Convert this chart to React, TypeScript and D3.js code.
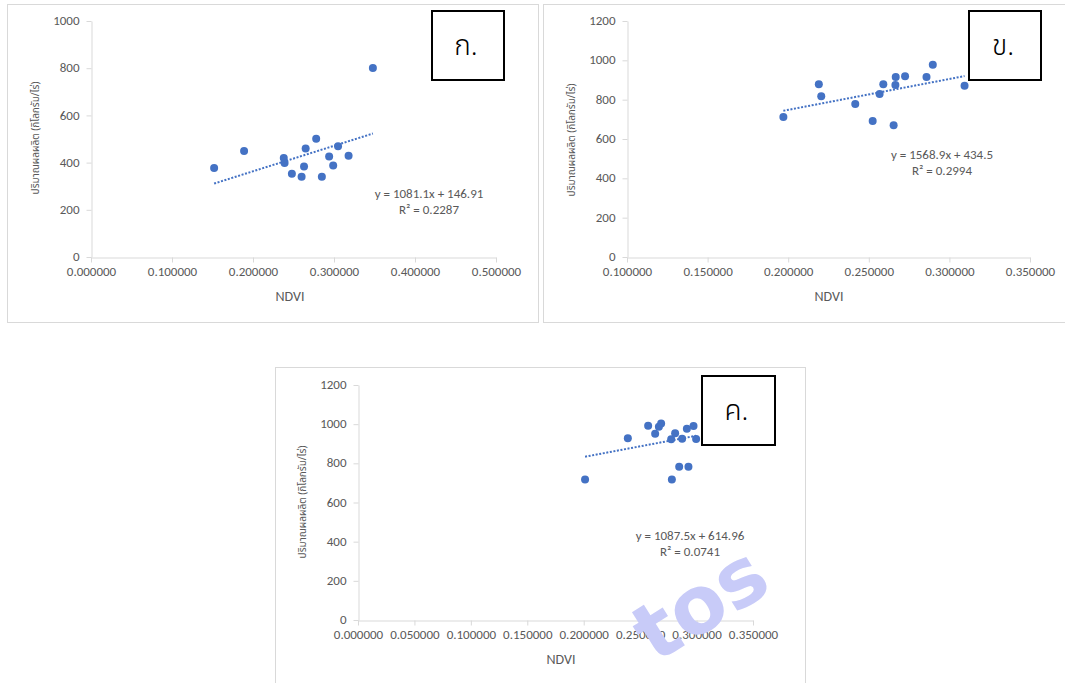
import React, { useEffect, useRef } from 'react';
import * as d3 from 'd3';

// ก.
const ndviA = [0.152, 0.189, 0.238, 0.239, 0.248, 0.260, 0.263, 0.265, 0.278, 0.285, 0.294, 0.299, 0.305, 0.318, 0.348];
const yieldA = [377, 449, 420, 398, 353, 340, 383, 460, 501, 340, 426, 388, 469, 429, 801];
const xTicksA = [0, 0.1, 0.2, 0.3, 0.4, 0.5];
const yTicksA = [0, 200, 400, 600, 800, 1000];
const trendA = [1081.1, 146.91];
const eqA = ['y = 1081.1x + 146.91', 'R² = 0.2287'];

// ข.
const ndviB = [0.197, 0.219, 0.2205, 0.2416, 0.2524, 0.2567, 0.259, 0.2654, 0.2665, 0.2667, 0.2725, 0.2858, 0.2897, 0.3094];
const yieldB = [712, 878, 817, 778, 692, 829, 878, 670, 875, 915, 919, 915, 978, 871];
const xTicksB = [0.1, 0.15, 0.2, 0.25, 0.3, 0.35];
const yTicksB = [0, 200, 400, 600, 800, 1000, 1200];
const trendB = [1568.9, 434.5];
const eqB = ['y = 1568.9x + 434.5', 'R² = 0.2994'];

// ค.
const ndviC = [0.2012, 0.2391, 0.2571, 0.2633, 0.2666, 0.2686, 0.2775, 0.2781, 0.281, 0.2846, 0.2872, 0.2914, 0.2928, 0.2973, 0.2996];
const yieldC = [718, 928, 992, 951, 987, 1004, 923, 718, 953, 783, 926, 977, 783, 991, 924];
const xTicksC = [0, 0.05, 0.1, 0.15, 0.2, 0.25, 0.3, 0.35];
const yTicksC = [0, 200, 400, 600, 800, 1000, 1200];
const trendC = [1087.5, 614.96];
const eqC = ['y = 1087.5x + 614.96', 'R² = 0.0741'];

const labels = ['ก.', 'ข.', 'ค.'];
const xTitle = 'NDVI';
const yTitle = 'ปริมาณผลผลิต (กิโลกรัม/ไร่)';

const BLUE = '#4472C4';
const GREY = '#595959';
const LINE = '#d9d9d9';
const FONT = "Calibri, Carlito, 'Liberation Sans', Arial, sans-serif";
const THAI = "'Noto Sans Thai', 'Noto Sans Thai UI', Tahoma, 'DejaVu Sans', sans-serif";

const panels = [
  { xs: ndviA, ys: yieldA, xt: xTicksA, yt: yTicksA, trend: trendA, eq: eqA, label: labels[0],
    frame: [7, 4, 531, 318], px: [91, 496], py: [257, 21], box: [432, 11, 72, 69], eqPos: [429, 195], xtPos: [290, 298], ytPos: [36, 138] },
  { xs: ndviB, ys: yieldB, xt: xTicksB, yt: yTicksB, trend: trendB, eq: eqB, label: labels[1],
    frame: [543, 4, 530, 318], px: [627, 1030], py: [257, 21], box: [969, 11, 72, 69], eqPos: [942, 156], xtPos: [829, 298], ytPos: [572, 140] },
  { xs: ndviC, ys: yieldC, xt: xTicksC, yt: yTicksC, trend: trendC, eq: eqC, label: labels[2],
    frame: [275, 367, 530, 330], px: [358, 753], py: [620, 385], box: [702, 376, 73, 69], eqPos: [690, 537], xtPos: [561, 661], ytPos: [303, 502] },
];

export default function App() {
  const ref = useRef<SVGSVGElement>(null);

  useEffect(() => {
    const svg = d3.select(ref.current);
    svg.selectAll('*').remove();

    panels.forEach((p) => {
      const g = svg.append('g');
      const [fx, fy, fw, fh] = p.frame;
      g.append('rect').attr('x', fx + 0.5).attr('y', fy + 0.5).attr('width', fw).attr('height', fh)
        .attr('fill', 'white').attr('stroke', LINE);

      const x = d3.scaleLinear().domain([p.xt[0], p.xt[p.xt.length - 1]]).range(p.px);
      const y = d3.scaleLinear().domain([p.yt[0], p.yt[p.yt.length - 1]]).range(p.py);

      const xAxis = g.append('g').attr('transform', `translate(0,${p.py[0] + 0.5})`)
        .call(d3.axisBottom(x).tickValues(p.xt).tickFormat(d3.format('.6f')).tickSize(5).tickSizeOuter(0).tickPadding(4));
      const yAxis = g.append('g').attr('transform', `translate(${p.px[0] + 0.5},0)`)
        .call(d3.axisLeft(y).tickValues(p.yt).tickFormat(d3.format('d')).tickSize(5).tickSizeOuter(0).tickPadding(7));
      [xAxis, yAxis].forEach((a) => {
        a.select('.domain').attr('stroke', LINE);
        a.selectAll('.tick line').attr('stroke', LINE);
        a.selectAll('.tick text').attr('fill', GREY).style('font-family', FONT).style('font-size', '13px');
      });
      // keep the "0" label clear of the first x label
      yAxis.selectAll('.tick text').attr('dy', '0.28em');

      const [m, b] = p.trend;
      const x0 = d3.min(p.xs) as number;
      const x1 = d3.max(p.xs) as number;
      g.append('line')
        .attr('x1', x(x0)).attr('y1', y(m * x0 + b))
        .attr('x2', x(x1)).attr('y2', y(m * x1 + b))
        .attr('stroke', BLUE).attr('stroke-width', 2).attr('stroke-dasharray', '2 1.6');

      g.selectAll('circle.pt').data(p.xs).enter().append('circle')
        .attr('class', 'pt')
        .attr('cx', (d) => x(d)).attr('cy', (d, i) => y(p.ys[i])).attr('r', 4)
        .attr('fill', BLUE);

      p.eq.forEach((t, i) => {
        g.append('text').attr('x', p.eqPos[0]).attr('y', p.eqPos[1] + i * 16)
          .attr('text-anchor', 'middle').attr('dominant-baseline', 'middle')
          .attr('fill', GREY).style('font-family', FONT).style('font-size', '13px').text(t);
      });

      g.append('text').attr('x', p.xtPos[0]).attr('y', p.xtPos[1])
        .attr('text-anchor', 'middle').attr('dominant-baseline', 'middle')
        .attr('fill', GREY).style('font-family', FONT).style('font-size', '14px').text(xTitle);

      g.append('text').attr('transform', `translate(${p.ytPos[0]},${p.ytPos[1]}) rotate(-90)`)
        .attr('text-anchor', 'middle').attr('dominant-baseline', 'middle')
        .attr('fill', GREY).style('font-family', THAI).style('font-size', '10px').text(yTitle);

      const [bx, by, bw, bh] = p.box;
      g.append('rect').attr('x', bx).attr('y', by).attr('width', bw).attr('height', bh)
        .attr('fill', 'white').attr('stroke', 'black').attr('stroke-width', 2);
      g.append('text').attr('x', bx + bw / 2 - 2).attr('y', by + bh / 2 + 2)
        .attr('text-anchor', 'middle').attr('dominant-baseline', 'middle')
        .attr('fill', 'black').style('font-family', THAI).style('font-weight', 300)
        .style('font-size', '28px').text(p.label);
    });

    // watermark
    svg.append('text').attr('transform', 'translate(655,664) rotate(-32)')
      .attr('fill', '#c8cbf8')
      .style('font-family', "'DejaVu Sans', sans-serif").style('font-weight', 'bold')
      .style('font-size', '80px').text('tos');
  }, []);

  return (
    <div style={{ position: 'absolute', left: 0, top: 0 }}>
      <svg ref={ref} width={1065} height={683} style={{ display: 'block', background: 'white' }} />
    </div>
  );
}
